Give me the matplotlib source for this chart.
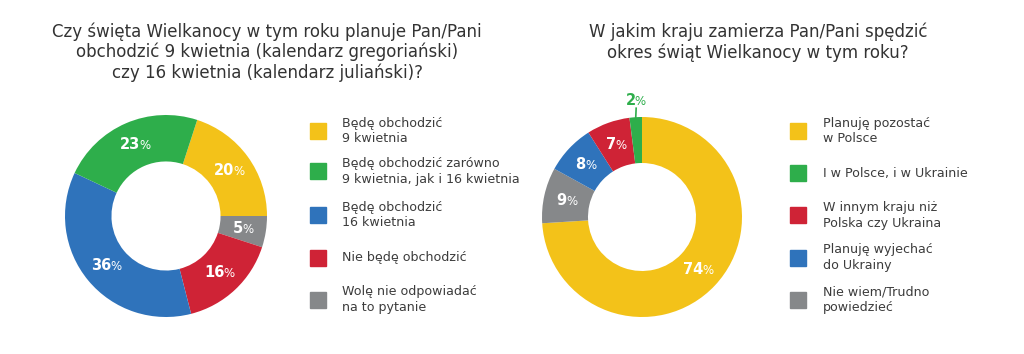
import numpy as np
import matplotlib.pyplot as plt
from matplotlib.offsetbox import TextArea, HPacker, AnnotationBbox

# ---------------- data
title_l = 'Czy święta Wielkanocy w tym roku planuje Pan/Pani\nobchodzić 9 kwietnia (kalendarz gregoriański)\nczy 16 kwietnia (kalendarz juliański)?'
labels_l = ['Będę obchodzić\n9 kwietnia',
            'Będę obchodzić zarówno\n9 kwietnia, jak i 16 kwietnia',
            'Będę obchodzić\n16 kwietnia',
            'Nie będę obchodzić',
            'Wolę nie odpowiadać\nna to pytanie']
values_l = [20, 23, 36, 16, 5]
# clockwise order in which the ring is drawn
ring_order_l = [0, 4, 3, 2, 1]

title_r = 'W jakim kraju zamierza Pan/Pani spędzić\nokres świąt Wielkanocy w tym roku?'
labels_r = ['Planuję pozostać\nw Polsce',
            'I w Polsce, i w Ukrainie',
            'W innym kraju niż\nPolska czy Ukraina',
            'Planuję wyjechać\ndo Ukrainy',
            'Nie wiem/Trudno\npowiedzieć']
values_r = [74, 2, 7, 8, 9]
ring_order_r = [0, 4, 3, 2, 1]

colors = ['#F3C219', '#2EAE4B', '#CF2336', '#2F73BB', '#86888A']
colors_l = ['#F3C219', '#2EAE4B', '#2F73BB', '#CF2336', '#86888A']

plt.rcParams['font.family'] = ['DejaVu Sans']
W, H = 1024, 354
fig = plt.figure(figsize=(W/100, H/100), dpi=100)
fig.patch.set_facecolor('white')

def pct_label(ax, x, y, v, col='white'):
    num = TextArea(str(v), textprops=dict(color=col, fontsize=10.5, fontweight='bold'))
    pc = TextArea('%', textprops=dict(color=col, fontsize=8.5))
    box = HPacker(children=[num, pc], align='baseline', pad=0, sep=-0.5)
    ab = AnnotationBbox(box, (x, y), frameon=False, box_alignment=(0.5, 0.5),
                        xycoords='data', pad=0, annotation_clip=False)
    ax.add_artist(ab)

def donut(cx, cy, r, vals, cols, start):
    ax = fig.add_axes([(cx-r)/W, (H-cy-r)/H, 2*r/W, 2*r/H])
    wedges, _ = ax.pie(vals, colors=cols, startangle=start, counterclock=False,
                       radius=1, wedgeprops=dict(width=0.46, linewidth=0))
    ax.set_xlim(-1, 1)
    ax.set_ylim(-1, 1)
    ax.axis('off')
    return ax, wedges

def legend(x_sq, x_txt, ys, labels, cols):
    for y, lab, c in zip(ys, labels, cols):
        fig.patches.append(plt.Rectangle(((x_sq)/W, (H-y-8)/H), 16/W, 16/H,
                                         transform=fig.transFigure, color=c, figure=fig))
        fig.text(x_txt/W, (H-y)/H, lab, ha='left', va='center', fontsize=9.1,
                 color='#3c3c3c', linespacing=1.3)

# ---------------- left chart
fig.text(267/W, (H-52)/H, title_l, ha='center', va='center', fontsize=12,
         color='#333333', linespacing=1.15)
vl = [values_l[i] for i in ring_order_l]
cl = [colors_l[i] for i in ring_order_l]
axl, wl = donut(166, 216, 101, vl, cl, 72)
for w, v in zip(wl, vl):
    a = np.deg2rad((w.theta1 + w.theta2) / 2)
    pct_label(axl, 0.77*np.cos(a), 0.77*np.sin(a), v)
legend(310, 342, [131, 171, 215, 258, 300], labels_l, colors_l)

# ---------------- right chart
fig.text(758/W, (H-42)/H, title_r, ha='center', va='center', fontsize=12,
         color='#333333', linespacing=1.15)
vr = [values_r[i] for i in ring_order_r]
cr = [colors[i] for i in ring_order_r]
axr, wr = donut(642, 217, 100, vr, cr, 90)
for w, v, c in zip(wr, vr, cr):
    a = np.deg2rad((w.theta1 + w.theta2) / 2)
    if v < 5:
        axr.plot([0.995*np.cos(a), 1.09*np.cos(a) + 0.01], [1.0*np.sin(a), 1.09*np.sin(a)],
                 color=c, lw=1.2, clip_on=False)
        pct_label(axr, 1.17*np.cos(a) + 0.01, 1.17*np.sin(a), v, col=c)
    else:
        pct_label(axr, 0.77*np.cos(a), 0.77*np.sin(a), v)
legend(790, 823, [131, 173, 215, 258, 300], labels_r, colors)

fig.savefig('out.png', dpi=100, facecolor='white')
